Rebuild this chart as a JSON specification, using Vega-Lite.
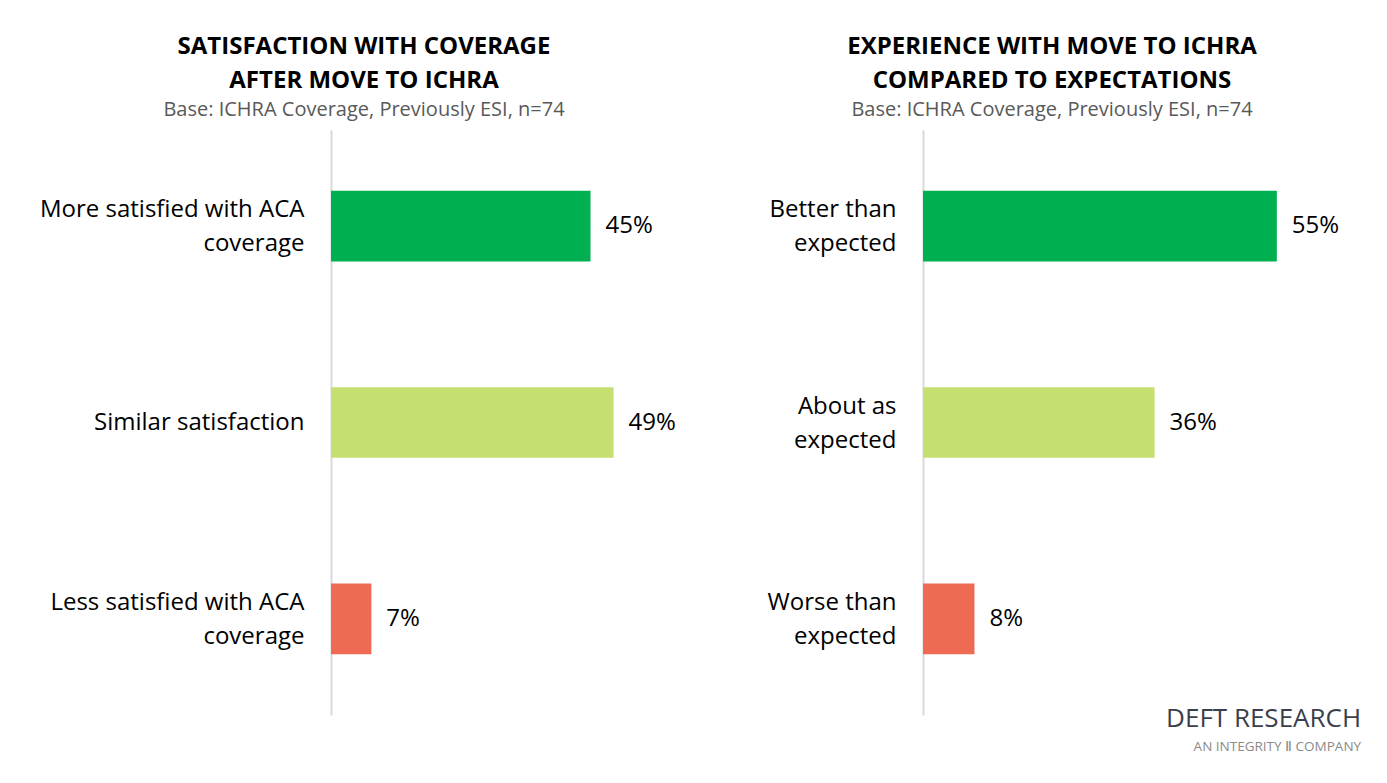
{
  "$schema": "https://vega.github.io/schema/vega-lite/v6.json",
  "background": "white",
  "padding": {"left": 11, "top": 35, "right": 0, "bottom": 10},
  "config": {
    "font": "Open Sans",
    "view": {"stroke": null},
    "concat": {"spacing": 46}
  },
  "title": {
    "text": "DEFT RESEARCH",
    "subtitle": "AN INTEGRITY Ⅱ COMPANY",
    "orient": "bottom",
    "anchor": "end",
    "fontSize": 26,
    "fontWeight": "normal",
    "color": "#3b3f4b",
    "subtitleColor": "#8a8a8a",
    "subtitleFontSize": 13.5,
    "subtitlePadding": 8,
    "offset": -9,
    "dx": 22
  },
  "hconcat": [
    {
      "width": 346,
      "height": 585,
      "title": {
        "text": ["SATISFACTION WITH COVERAGE", "AFTER MOVE TO ICHRA"],
        "subtitle": "Base: ICHRA Coverage, Previously ESI, n=74",
        "anchor": "middle",
        "frame": "group",
        "dx": -140,
        "fontSize": 24,
        "fontWeight": "bold",
        "lineHeight": 34,
        "color": "black",
        "subtitleFontSize": 20,
        "subtitleColor": "#595959",
        "subtitlePadding": 7,
        "offset": 10
      },
      "data": {
        "values": [
          {"response": "More satisfied with ACA coverage", "share": 0.45},
          {"response": "Similar satisfaction", "share": 0.49},
          {"response": "Less satisfied with ACA coverage", "share": 0.07}
        ]
      },
      "encoding": {
        "y": {
          "field": "response",
          "type": "nominal",
          "sort": null,
          "scale": {"paddingInner": 0.64, "paddingOuter": 0.31},
          "axis": {
            "title": null,
            "domain": true,
            "domainColor": "#d9d9d9",
            "domainWidth": 2,
            "ticks": false,
            "labelPadding": 27,
            "labelFontSize": 24,
            "labelColor": "black",
            "labelLineHeight": 34,
            "labelLimit": 400,
            "minExtent": 320,
            "labelOffset": {"condition": {"test": "datum.value == 'Similar satisfaction'", "value": 0}, "value": -16},
            "labelExpr": "datum.label == 'More satisfied with ACA coverage' ? ['More satisfied with ACA', 'coverage'] : datum.label == 'Less satisfied with ACA coverage' ? ['Less satisfied with ACA', 'coverage'] : datum.label"
          }
        },
        "x": {
          "field": "share",
          "type": "quantitative",
          "scale": {"domain": [0, 0.6]},
          "axis": null
        }
      },
      "layer": [
        {
          "mark": {"type": "bar"},
          "encoding": {
            "color": {
              "field": "response",
              "type": "nominal",
              "scale": {
                "domain": ["More satisfied with ACA coverage", "Similar satisfaction", "Less satisfied with ACA coverage"],
                "range": ["#00af50", "#c5df70", "#ef6a52"]
              },
              "legend": null
            }
          }
        },
        {
          "mark": {"type": "text", "align": "left", "dx": 15, "fontSize": 24, "color": "black"},
          "encoding": {"text": {"field": "share", "type": "quantitative", "format": ".0%"}}
        }
      ]
    },
    {
      "width": 386,
      "height": 585,
      "title": {
        "text": ["EXPERIENCE WITH MOVE TO ICHRA", "COMPARED TO EXPECTATIONS"],
        "subtitle": "Base: ICHRA Coverage, Previously ESI, n=74",
        "anchor": "middle",
        "frame": "group",
        "dx": -64,
        "fontSize": 24,
        "fontWeight": "bold",
        "lineHeight": 34,
        "color": "black",
        "subtitleFontSize": 20,
        "subtitleColor": "#595959",
        "subtitlePadding": 7,
        "offset": 10
      },
      "data": {
        "values": [
          {"response": "Better than expected", "share": 0.55},
          {"response": "About as expected", "share": 0.36},
          {"response": "Worse than expected", "share": 0.08}
        ]
      },
      "encoding": {
        "y": {
          "field": "response",
          "type": "nominal",
          "sort": null,
          "scale": {"paddingInner": 0.64, "paddingOuter": 0.31},
          "axis": {
            "title": null,
            "domain": true,
            "domainColor": "#d9d9d9",
            "domainWidth": 2,
            "ticks": false,
            "labelPadding": 27,
            "labelFontSize": 24,
            "labelColor": "black",
            "labelLineHeight": 34,
            "labelLimit": 400,
            "minExtent": 200,
            "labelOffset": -16,
            "labelExpr": "datum.label == 'Better than expected' ? ['Better than', 'expected'] : datum.label == 'About as expected' ? ['About as', 'expected'] : ['Worse than', 'expected']"
          }
        },
        "x": {
          "field": "share",
          "type": "quantitative",
          "scale": {"domain": [0, 0.6]},
          "axis": null
        }
      },
      "layer": [
        {
          "mark": {"type": "bar"},
          "encoding": {
            "color": {
              "field": "response",
              "type": "nominal",
              "scale": {
                "domain": ["Better than expected", "About as expected", "Worse than expected"],
                "range": ["#00af50", "#c5df70", "#ef6a52"]
              },
              "legend": null
            }
          }
        },
        {
          "mark": {"type": "text", "align": "left", "dx": 15, "fontSize": 24, "color": "black"},
          "encoding": {"text": {"field": "share", "type": "quantitative", "format": ".0%"}}
        }
      ]
    }
  ]
}
